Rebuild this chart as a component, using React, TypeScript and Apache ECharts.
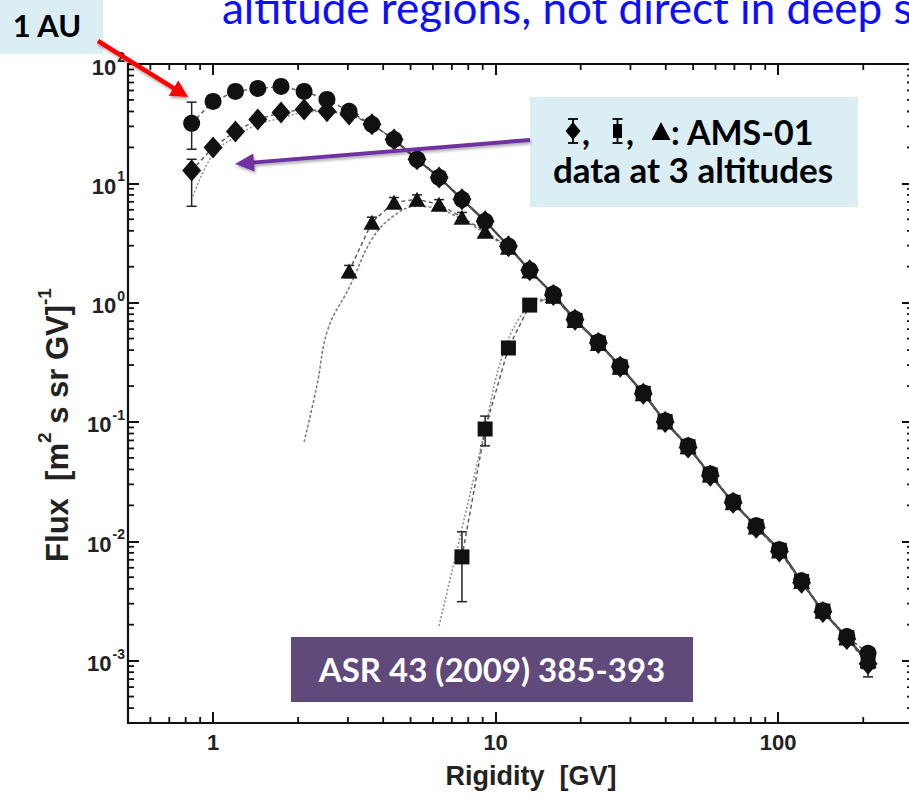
import React, { useEffect, useRef } from "react";
import * as echarts from "echarts";

// ---------------- data ----------------
const rigidityGV = [
  0.84, 1.0, 1.2, 1.44, 1.74, 2.1, 2.53, 3.03, 3.65, 4.37, 5.27, 6.31, 7.6, 9.18, 11.1, 13.2,
  16.0, 19.1, 23.1, 27.6, 33.3, 39.8, 48.0, 57.5, 69.3, 83.6, 101, 121, 144, 175, 208,
];

// 1 AU (circles)
const flux1AU = [
  31.8, 48.6, 58.9, 62.4, 64.8, 58.9, 50.5, 40.1, 31.2, 23.3, 15.9, 11.2, 7.35, 4.81, 2.97, 1.87,
  1.18, 0.728, 0.467, 0.294, 0.175, 0.102, 0.063, 0.0367, 0.0214, 0.0135, 0.0085, 0.00467, 0.00262,
  0.00159, 0.00115,
];

// AMS-01, diamonds
const fluxDiamond = [
  12.8, 20.0, 27.2, 34.3, 39.3, 41.6, 40.1, 37.8, 31.2, 23.3, 15.9, 11.2, 7.35, 4.81, 2.97, 1.87,
  1.16, 0.72, 0.46, 0.29, 0.172, 0.1, 0.061, 0.0355, 0.021, 0.013, 0.0082, 0.0045, 0.00255,
  0.00152, 0.00094,
];

// AMS-01, triangles
const fluxTriangle = [
  null, null, null, null, null, null, null, 1.84, 4.72, 6.93, 7.35, 6.67, 5.19, 3.96, 2.91, 1.84,
  1.15, 0.71, 0.455, 0.288, 0.172, 0.1, 0.062, 0.036, 0.021, 0.0132, 0.0083, 0.0046, 0.0026,
  0.00155, 0.001,
];

// AMS-01, squares
const fluxSquare = [
  null, null, null, null, null, null, null, null, null, null, null, null, 0.0074, 0.0873, 0.417,
  0.954, 1.13, 0.71, 0.46, 0.29, 0.174, 0.101, 0.062, 0.036, 0.0212, 0.0133, 0.0084, 0.0046,
  0.0026, 0.00156, 0.00098,
];

// solid fit through the high-rigidity part
const fitR = [4.37, 5.27, 6.31, 7.6, 9.18, 11.1, 13.2, 16.0, 19.1, 23.1, 27.6, 33.3, 39.8, 48.0, 57.5, 69.3, 83.6, 101, 121, 144, 175, 208];
const fitFlux = [23.3, 15.9, 11.2, 7.35, 4.81, 2.97, 1.87, 1.17, 0.724, 0.463, 0.292, 0.174, 0.101, 0.062, 0.036, 0.0212, 0.0133, 0.0084, 0.0046, 0.0026, 0.00156, 0.00097];

// dotted model curves
const modelDiamondR = [0.85, 1.0, 1.206, 1.443, 1.727, 2.1, 2.53, 3.03, 3.65, 4.37];
const modelDiamondFlux = [7.8, 17.5, 24.7, 31.2, 35.0, 39.3, 40.1, 37.5, 31.0, 23.3];
const modelTriangleR = [2.1, 2.33, 2.55, 3.05, 3.65, 4.34, 5.27, 6.31, 7.6, 9.18, 11.1];
const modelTriangleFlux = [0.068, 0.2, 0.6, 1.37, 3.4, 5.3, 6.42, 6.07, 5.0, 3.82, 2.88];
const modelSquareR = [6.31, 7.6, 9.18, 10.4, 12.2, 14.4, 16.9];
const modelSquareFlux = [0.00196, 0.0128, 0.087, 0.318, 0.757, 1.07, 1.0];

// error bars
const errR = [0.84, 0.84, 7.6, 9.18, 208, 3.03, 3.65, 4.37, 5.27, 6.31, 7.6, 9.18];
const errLow = [19.3, 6.42, 0.00312, 0.063, 0.00073, 1.62, 4.25, 6.3, 6.7, 6.05, 4.7, 3.6];
const errHigh = [47.9, 15.9, 0.012, 0.112, 0.00124, 2.05, 5.2, 7.6, 8.0, 7.3, 5.7, 4.3];

const X_MIN = 0.5;
const X_MAX = 300;
const Y_MIN = 3e-4;
const Y_MAX = 100;
const MINOR_MULT = [2, 3, 4, 5, 6, 7, 8, 9];
const X_DECADES = [0.1, 1, 10, 100];
const Y_DECADES = [1e-4, 1e-3, 1e-2, 1e-1, 1, 10];

const titleText = "altitude regions, not direct in deep space";
const auText = "1 AU";
const boxLine2 = "data at 3 altitudes";
const refText = "ASR 43 (2009) 385-393";

function pairs(xs: number[], ys: (number | null)[]) {
  const out: number[][] = [];
  xs.forEach((x, i) => {
    const y = ys[i];
    if (y != null) out.push([x, y]);
  });
  return out;
}

function isPow10(v: number) {
  const l = Math.log10(v);
  return Math.abs(l - Math.round(l)) < 1e-6;
}

function arrow(tail: number[], tip: number[], color: string, width: number, headLen: number, headHalf: number) {
  const dx = tip[0] - tail[0];
  const dy = tip[1] - tail[1];
  const len = Math.sqrt(dx * dx + dy * dy);
  const ux = dx / len;
  const uy = dy / len;
  const bx = tip[0] - ux * headLen;
  const by = tip[1] - uy * headLen;
  const px = -uy;
  const py = ux;
  return [
    {
      type: "line",
      shape: { x1: tail[0], y1: tail[1], x2: bx + ux * 2, y2: by + uy * 2 },
      style: { stroke: color, lineWidth: width, shadowBlur: 3, shadowColor: "rgba(0,0,0,0.35)", shadowOffsetX: 1, shadowOffsetY: 2 },
      z: 100,
    },
    {
      type: "polygon",
      shape: {
        points: [
          [tip[0], tip[1]],
          [bx + px * headHalf, by + py * headHalf],
          [bx - px * headHalf, by - py * headHalf],
        ],
      },
      style: { fill: color, shadowBlur: 3, shadowColor: "rgba(0,0,0,0.35)", shadowOffsetX: 1, shadowOffsetY: 2 },
      z: 100,
    },
  ];
}

function txt(x: number, y: number, text: string, font: string, fill: string, align: string, lineHeight: number) {
  return {
    type: "text",
    x,
    y,
    style: { text, font, fill, textAlign: align, align, textVerticalAlign: "middle", verticalAlign: "middle", lineHeight },
    z: 100,
  };
}

export default function App() {
  const ref = useRef<HTMLDivElement>(null);

  useEffect(() => {
    const chart = echarts.init(ref.current!, undefined, { renderer: "svg" });
    const AX = "#111";
    const FONT = "Liberation Sans";
    const MARK = "#111";

    const xMinor: number[] = [];
    X_DECADES.forEach((d) => MINOR_MULT.forEach((m) => {
      const v = d * m;
      if (v > X_MIN * 1.001 && v < X_MAX * 0.999) xMinor.push(v);
    }));
    const yMinor: number[] = [];
    Y_DECADES.forEach((d) => MINOR_MULT.forEach((m) => {
      const v = d * m;
      if (v > Y_MIN * 1.001 && v < Y_MAX * 0.999) yMinor.push(v);
    }));

    const tickLine = { show: true, inside: true, length: 11, lineStyle: { color: AX, width: 2 } };
    const axLine = { show: true, lineStyle: { color: AX, width: 2.2 } };

    const xBase = {
      type: "log",
      logBase: 10,
      min: X_MIN,
      max: X_MAX,
      axisLine: axLine,
      axisTick: tickLine,
      splitLine: { show: false },
      minorTick: { show: false },
      minorSplitLine: { show: false },
    };
    const yBase = {
      type: "log",
      logBase: 10,
      min: Y_MIN,
      max: Y_MAX,
      axisLine: axLine,
      axisTick: tickLine,
      splitLine: { show: false },
      minorTick: { show: false },
      minorSplitLine: { show: false },
    };

    const errStyle = { stroke: "#222", lineWidth: 1.5 };

    const option: any = {
      animation: false,
      backgroundColor: "#ffffff",
      grid: { left: 128, top: 64, width: 785, height: 659, outerBoundsMode: "none", containLabel: false },
      xAxis: [
        {
          ...xBase,
          position: "bottom",
          axisLabel: {
            show: true,
            margin: 8,
            showMinLabel: true,
            showMaxLabel: true,
            fontFamily: FONT,
            fontWeight: "bold",
            fontSize: 22,
            color: "#222",
            formatter: (v: number) => (isPow10(v) ? String(Math.round(v)) : ""),
          },
        },
        { ...xBase, position: "top", axisLabel: { show: false } },
      ],
      yAxis: [
        {
          ...yBase,
          position: "left",
          axisLabel: {
            show: true,
            margin: 3,
            showMinLabel: true,
            showMaxLabel: true,
            formatter: (v: number) => {
              if (!isPow10(v)) return "";
              const e = Math.round(Math.log10(v));
              return "{b|10}{s|" + e + "}";
            },
            rich: {
              b: { fontFamily: FONT, fontWeight: "bold", fontSize: 22, color: "#222", lineHeight: 28, verticalAlign: "bottom" },
              s: { fontFamily: FONT, fontWeight: "bold", fontSize: 14, color: "#222", verticalAlign: "top", padding: [0, 0, 0, 1] },
            },
          },
        },
        { ...yBase, position: "right", axisLabel: { show: false } },
      ],
      series: [
        {
          type: "custom",
          name: "xMinorTicks",
          silent: true,
          data: xMinor.map((v) => [v, Y_MIN]),
          renderItem: (_p: any, api: any) => {
            const v = api.value(0);
            const b = api.coord([v, Y_MIN]);
            const t = api.coord([v, Y_MAX]);
            return {
              type: "group",
              children: [
                { type: "line", shape: { x1: b[0], y1: b[1], x2: b[0], y2: b[1] - 6 }, style: { stroke: AX, lineWidth: 1.8 } },
                { type: "line", shape: { x1: t[0], y1: t[1], x2: t[0], y2: t[1] + 6 }, style: { stroke: AX, lineWidth: 1.8 } },
              ],
            };
          },
          z: 1,
        },
        {
          type: "custom",
          name: "yMinorTicks",
          silent: true,
          data: yMinor.map((v) => [X_MIN, v]),
          renderItem: (_p: any, api: any) => {
            const v = api.value(1);
            const l = api.coord([X_MIN, v]);
            const r = api.coord([X_MAX, v]);
            return {
              type: "group",
              children: [
                { type: "line", shape: { x1: l[0], y1: l[1], x2: l[0] + 6, y2: l[1] }, style: { stroke: AX, lineWidth: 1.8 } },
                { type: "line", shape: { x1: r[0], y1: r[1], x2: r[0] - 6, y2: r[1] }, style: { stroke: AX, lineWidth: 1.8 } },
              ],
            };
          },
          z: 1,
        },
        {
          type: "line",
          name: "modelDiamond",
          data: pairs(modelDiamondR, modelDiamondFlux),
          smooth: 0.4,
          showSymbol: false,
          lineStyle: { color: "#8a8a8a", width: 1.4, type: [2, 2] },
          z: 2,
        },
        {
          type: "line",
          name: "modelTriangle",
          data: pairs(modelTriangleR, modelTriangleFlux),
          smooth: 0.4,
          showSymbol: false,
          lineStyle: { color: "#777", width: 1.5, type: [3, 2] },
          z: 2,
        },
        {
          type: "line",
          name: "modelSquare",
          data: pairs(modelSquareR, modelSquareFlux),
          smooth: 0.4,
          showSymbol: false,
          lineStyle: { color: "#8a8a8a", width: 1.5, type: [2, 2] },
          z: 2,
        },
        {
          type: "line",
          name: "fit",
          data: pairs(fitR, fitFlux),
          smooth: 0.3,
          showSymbol: false,
          lineStyle: { color: "#333", width: 2.2 },
          z: 3,
        },
        {
          type: "custom",
          name: "errorBars",
          data: errR.map((x, i) => [x, errLow[i], errHigh[i]]),
          encode: { x: 0, y: [1, 2] },
          renderItem: (_p: any, api: any) => {
            const x = api.value(0);
            const p1 = api.coord([x, api.value(1)]);
            const p2 = api.coord([x, api.value(2)]);
            const w = 5;
            return {
              type: "group",
              children: [
                { type: "line", shape: { x1: p1[0], y1: p1[1], x2: p2[0], y2: p2[1] }, style: errStyle },
                { type: "line", shape: { x1: p1[0] - w, y1: p1[1], x2: p1[0] + w, y2: p1[1] }, style: errStyle },
                { type: "line", shape: { x1: p2[0] - w, y1: p2[1], x2: p2[0] + w, y2: p2[1] }, style: errStyle },
              ],
            };
          },
          z: 4,
        },
        {
          type: "line",
          name: "1 AU",
          data: pairs(rigidityGV, flux1AU),
          symbol: "circle",
          symbolSize: 17,
          itemStyle: { color: MARK },
          lineStyle: { color: "#555", width: 1.4, type: [4, 3] },
          z: 5,
        },
        {
          type: "line",
          name: "diamond",
          data: pairs(rigidityGV, fluxDiamond),
          symbol: "diamond",
          symbolSize: [19, 22],
          itemStyle: { color: MARK },
          lineStyle: { color: "#555", width: 1.4, type: [4, 3] },
          z: 5,
        },
        {
          type: "line",
          name: "triangle",
          data: pairs(rigidityGV, fluxTriangle),
          symbol: "triangle",
          symbolSize: [17, 15],
          itemStyle: { color: MARK },
          lineStyle: { color: "#555", width: 1.4, type: [4, 3] },
          z: 5,
        },
        {
          type: "line",
          name: "square",
          data: pairs(rigidityGV, fluxSquare),
          symbol: "rect",
          symbolSize: 15,
          itemStyle: { color: MARK },
          lineStyle: { color: "#555", width: 1.4, type: [4, 3] },
          z: 5,
        },
      ],
      graphic: {
        elements: [
          txt(222, 7, titleText, "44px Lato", "#0d0dff", "left", 44),
          { type: "rect", shape: { x: 0, y: 0, width: 103, height: 54 }, style: { fill: "#dbeef4" }, z: 90 },
          txt(47, 25, auText, "bold 31px Lato", "#000", "center", 31),
          ...arrow([98, 41], [188, 97], "#ff0000", 4.5, 17, 9),
          { type: "rect", shape: { x: 530, y: 97, width: 328, height: 110 }, style: { fill: "#dbeef4" }, z: 90 },
          // legend glyph: diamond with error bar
          { type: "polygon", shape: { points: [[573, 122], [580.5, 131], [573, 140], [565.5, 131]] }, style: { fill: "#000" }, z: 100 },
          { type: "polyline", shape: { points: [[573, 119], [573, 143]] }, style: { stroke: "#000", lineWidth: 1.8 }, z: 100 },
          { type: "polyline", shape: { points: [[568, 119], [578, 119]] }, style: { stroke: "#000", lineWidth: 1.8 }, z: 100 },
          { type: "polyline", shape: { points: [[568, 143], [578, 143]] }, style: { stroke: "#000", lineWidth: 1.8 }, z: 100 },
          txt(582, 131, ",", "bold 34px Lato", "#000", "left", 30),
          // square with error bar
          { type: "rect", shape: { x: 613, y: 124, width: 9, height: 14 }, style: { fill: "#000" }, z: 100 },
          { type: "polyline", shape: { points: [[617.5, 119], [617.5, 143]] }, style: { stroke: "#000", lineWidth: 1.8 }, z: 100 },
          { type: "polyline", shape: { points: [[612.5, 119], [622.5, 119]] }, style: { stroke: "#000", lineWidth: 1.8 }, z: 100 },
          { type: "polyline", shape: { points: [[612.5, 143], [622.5, 143]] }, style: { stroke: "#000", lineWidth: 1.8 }, z: 100 },
          txt(626, 131, ",", "bold 34px Lato", "#000", "left", 30),
          // triangle
          { type: "polygon", shape: { points: [[661, 122], [670.5, 140], [651.5, 140]] }, style: { fill: "#000" }, z: 100 },
          txt(671, 131, ": AMS-01", "bold 34px Lato", "#000", "left", 30),
          txt(693, 169, boxLine2, "bold 35px Lato", "#000", "center", 32),
          ...arrow([530, 140], [235, 164], "#7030a0", 4, 19, 9),
          { type: "rect", shape: { x: 291, y: 637, width: 402, height: 65 }, style: { fill: "#5f4a7b" }, z: 90 },
          txt(492, 669, refText, "bold 33px Lato", "#ffffff", "center", 33),
          txt(531, 776, "Rigidity  [GV]", 'bold 27px "Liberation Sans"', "#222", "center", 27),
          {
            type: "text", x: 54, y: 425, rotation: Math.PI / 2,
            style: {
              text: "{a|Flux  [m}{s|2}{a| s sr GV]}{s|-1}",
              textAlign: "center", align: "center", textVerticalAlign: "middle", verticalAlign: "middle",
              rich: {
                a: { fontFamily: FONT, fontWeight: "bold", fontSize: 31, fill: "#222", color: "#222", lineHeight: 38, verticalAlign: "bottom" },
                s: { fontFamily: FONT, fontWeight: "bold", fontSize: 19, fill: "#222", color: "#222", verticalAlign: "top" },
              },
            },
            z: 100,
          },
        ],
      },
    };

    chart.setOption(option);
    return () => chart.dispose();
  }, []);

  return (
    <div style={{ position: "fixed", left: 0, top: 0, width: 909, height: 798, overflow: "hidden", background: "#fff" }}>
      <div ref={ref} style={{ width: 913, height: 798 }} />
    </div>
  );
}
